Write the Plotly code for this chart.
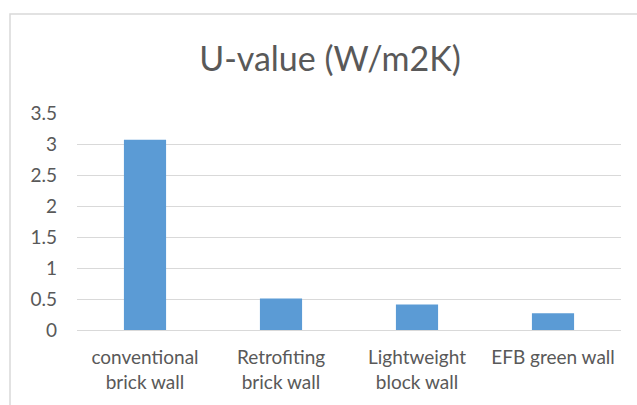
import plotly.graph_objects as go

# U-values of the four wall types
categories = ["conventional<br>brick wall", "Retrofiting<br>brick wall",
              "Lightweight<br>block wall", "EFB green wall"]
u_values = [3.07, 0.51, 0.41, 0.27]
y_ticks = [0, 0.5, 1, 1.5, 2, 2.5, 3, 3.5]
y_tick_labels = ["0", "0.5", "1", "1.5", "2", "2.5", "3", "3.5"]

W, H = 637, 405
L, R, T, B = 77, 16, 113, 75
plot_w, plot_h = W - L - R, H - T - B

text_color = "#595959"
font_family = "Lato, Open Sans, sans-serif"

fig = go.Figure(go.Bar(
    x=categories,
    y=u_values,
    marker=dict(color="#5B9BD5", line=dict(width=0)),
))

# chart frame (outer border)
fig.add_shape(
    type="rect", xref="paper", yref="paper",
    x0=(10 - L) / plot_w, x1=(W + 20 - L) / plot_w,
    y0=-(B + 20) / plot_h, y1=(H - B - 14) / plot_h,
    line=dict(color="#D9D9D9", width=1.5), fillcolor="rgba(0,0,0,0)",
    layer="below",
)

fig.update_layout(
    width=W, height=H,
    margin=dict(l=L, r=R, t=T, b=B),
    paper_bgcolor="white", plot_bgcolor="white",
    bargap=0.69,
    showlegend=False,
    font=dict(family=font_family, size=19, color=text_color),
    title=dict(
        text="U-value (W/m2K)",
        x=330 / W, xanchor="center",
        y=1 - 59 / H, yanchor="middle",
        font=dict(family=font_family, size=34, color=text_color),
    ),
    xaxis=dict(
        showgrid=False, showline=False, ticks="",
        ticklabelstandoff=14,
        tickfont=dict(size=19, color=text_color),
    ),
    yaxis=dict(
        range=[0, 3.5],
        tickvals=y_ticks, ticktext=y_tick_labels,
        showgrid=True, gridcolor="#D9D9D9", gridwidth=1,
        zeroline=True, zerolinecolor="#D9D9D9", zerolinewidth=1,
        showline=False, ticks="",
        ticklabelstandoff=19,
        tickfont=dict(size=19, color=text_color),
    ),
)

fig.write_html("out.html")
